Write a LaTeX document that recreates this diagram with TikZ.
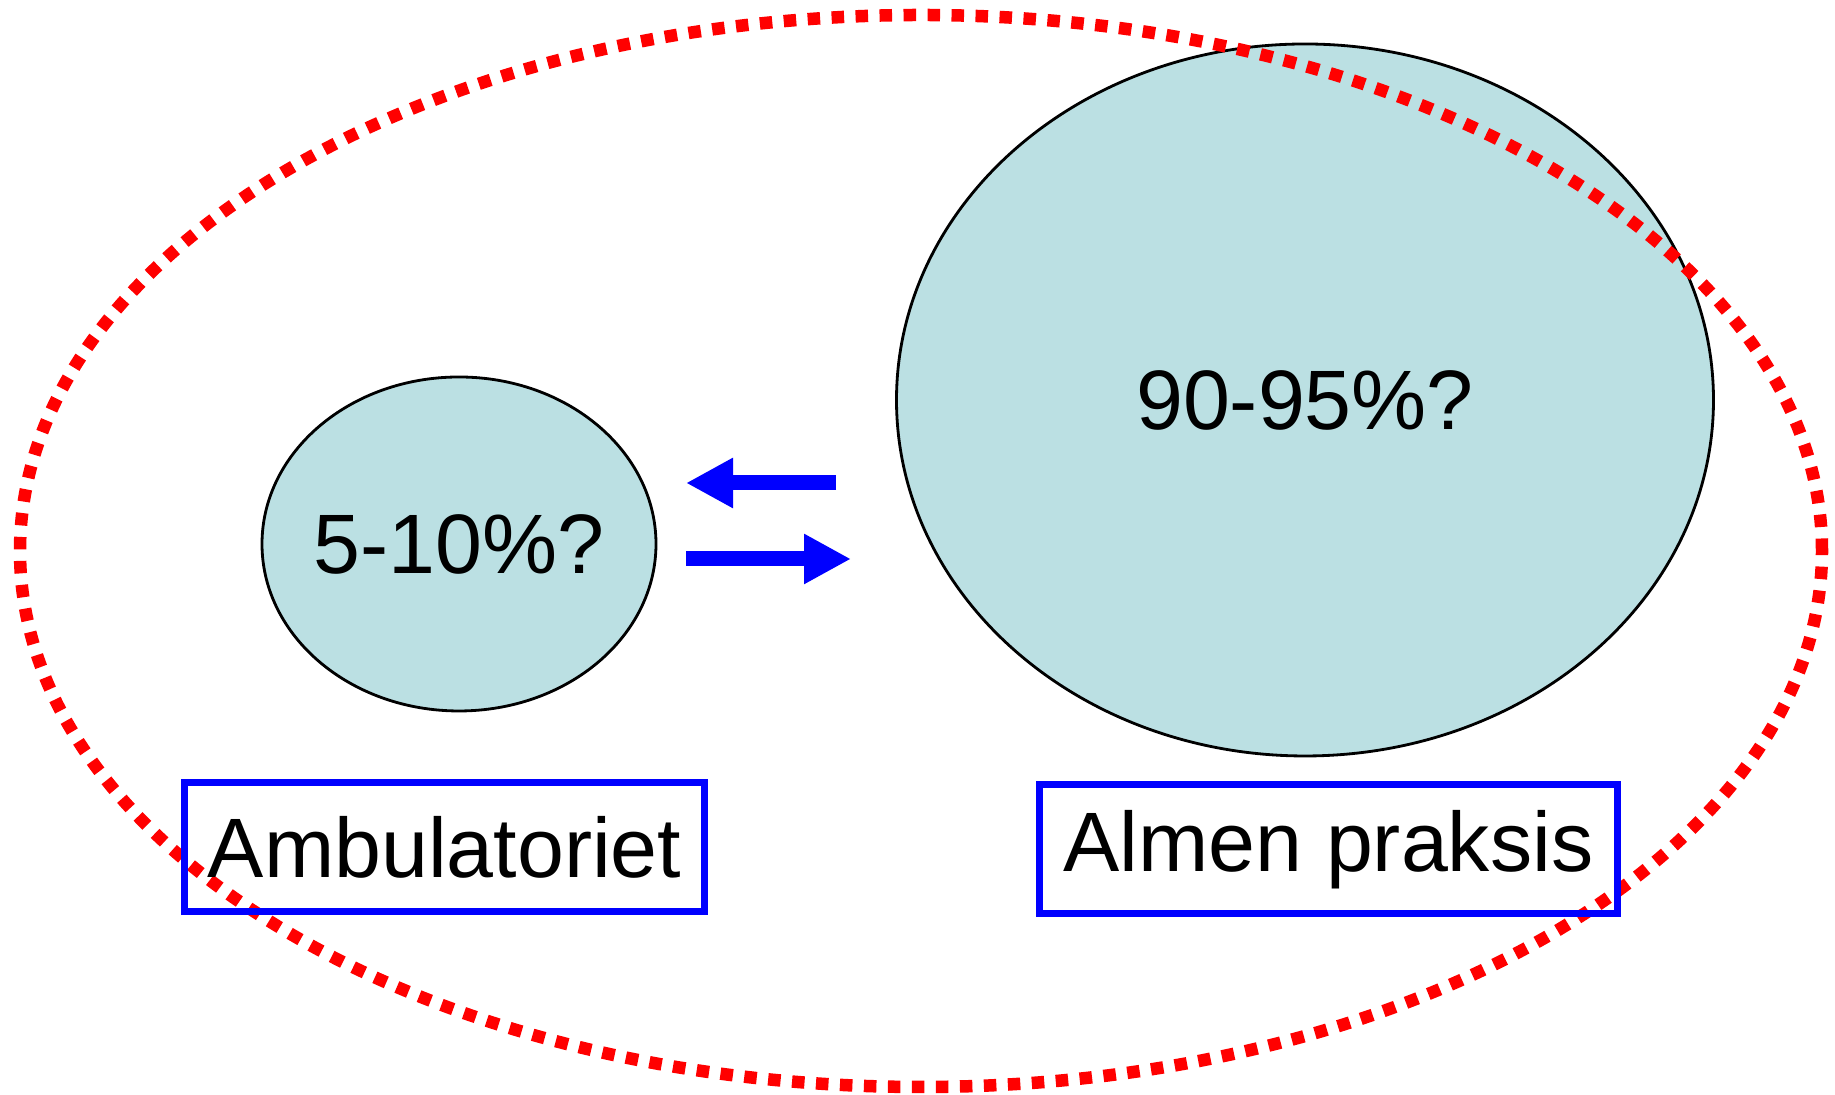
\documentclass[tikz,border=0pt]{standalone}
\usepackage{fontspec}
\setmainfont{Liberation Sans}
\usetikzlibrary{arrows.meta,positioning,shapes.geometric}
\definecolor{shA}{HTML}{BBE0E3}
\definecolor{shB}{HTML}{FF0000}
\definecolor{shC}{HTML}{0000FF}

\begin{document}
\begin{tikzpicture}[
  share/.style={ellipse,draw=black,line width=0.8pt,fill=shA,inner sep=0pt},
  place/.style={draw=shC,line width=0.07cm,inner sep=0pt,font=\fontsize{24}{28}\selectfont},
  flow/.style={shC,line width=0.15cm,-{Triangle[length=0.47cm,width=0.47cm]}}]
\useasboundingbox (0,0) rectangle (18.35,10.95);
\node[share,minimum width=3.94cm,minimum height=3.34cm] (amb) at (4.59,5.51) {};
\node[share,minimum width=8.17cm,minimum height=7.12cm] (alm) at (13.05,6.95) {};
\node[font=\fontsize{24}{28}\selectfont] at (amb) {5-10\%?};
\node[font=\fontsize{24}{28}\selectfont] at (alm) {90-95\%?};
% the whole group
\draw[shB,line width=0.125cm,dash pattern=on 0.125cm off 0.115cm] (9.21,5.44) ellipse (9.01 and 5.36);
\node[place,minimum width=5.20cm,minimum height=1.29cm] (ambbox) at (4.445,2.475) {Ambulatoriet};
\node[place,minimum width=5.78cm,minimum height=1.29cm] (almbox) at (13.285,2.455) {Almen praksis};
\coordinate (backA) at (8.36,6.12); \coordinate (backB) at (6.86,6.12);
\coordinate (fwdA) at (6.86,5.36); \coordinate (fwdB) at (8.51,5.36);
\draw[flow] (backA) -- (backB);
\draw[flow] (fwdA) -- (fwdB);
\end{tikzpicture}
\end{document}
